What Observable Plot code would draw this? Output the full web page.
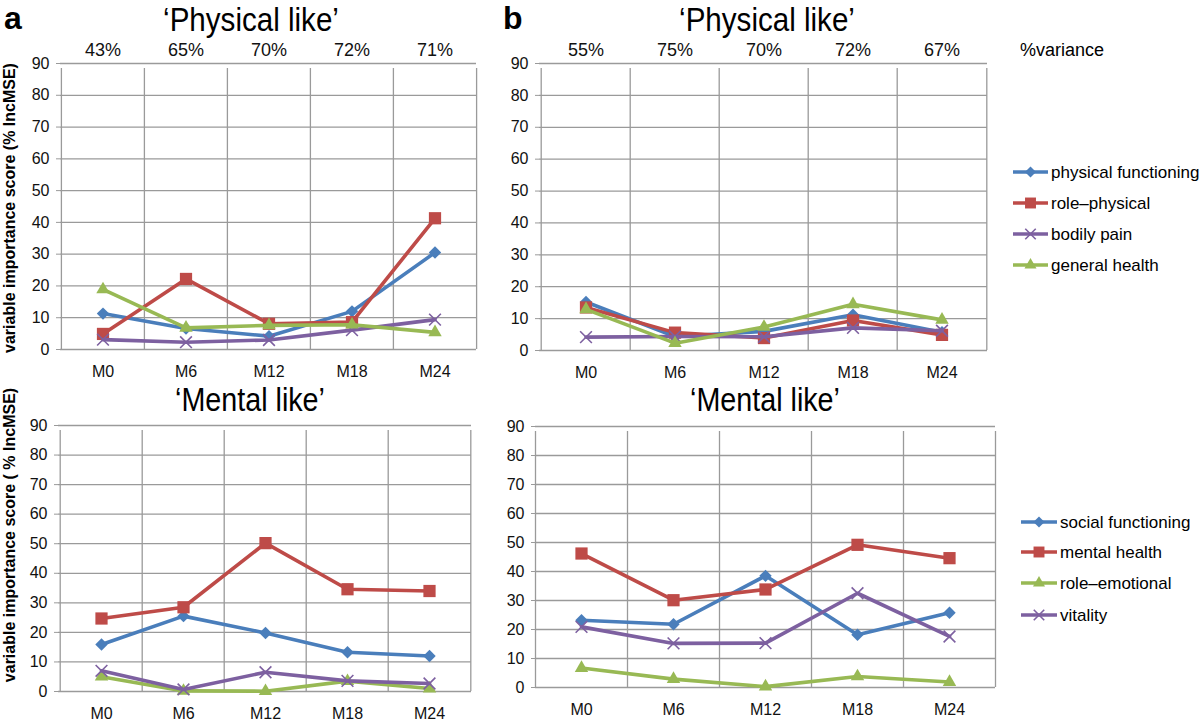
<!DOCTYPE html>
<html><head><meta charset="utf-8">
<script src="https://cdn.jsdelivr.net/npm/d3@7"></script>
<script src="https://cdn.jsdelivr.net/npm/@observablehq/plot@0.6"></script>
<style>
body{margin:0;background:#fff}
#root{position:relative;width:1200px;height:723px;overflow:hidden;background:#fff;font-family:"Liberation Sans",Arial,sans-serif}
#root svg{position:absolute;left:0;top:0}
</style></head><body><div id="root"></div>
<script>
// ---------- data ----------
const months = ["M0", "M6", "M12", "M18", "M24"];
const yTicks = [0, 10, 20, 30, 40, 50, 60, 70, 80, 90];
const varianceA = ["43%", "65%", "70%", "72%", "71%"];
const varianceB = ["55%", "75%", "70%", "72%", "67%"];

const physicalNames = ["physical functioning", "role–physical", "bodily pain", "general health"];
const mentalNames = ["social functioning", "mental health", "role–emotional", "vitality"];

// panel a, 'Physical like'
const aPhysicalFunctioning = [11.3, 6.6, 4.2, 12.0, 30.5];
const aRolePhysical = [4.9, 22.2, 8.1, 8.6, 41.3];
const aBodilyPain = [3.1, 2.3, 3.0, 6.1, 9.4];
const aGeneralHealth = [18.9, 6.8, 7.6, 7.8, 5.4];
// panel b, 'Physical like'
const bPhysicalFunctioning = [15.2, 4.4, 6.0, 11.2, 5.7];
const bRolePhysical = [13.5, 5.6, 3.9, 9.4, 4.9];
const bBodilyPain = [4.2, 4.4, 4.3, 7.1, 6.2];
const bGeneralHealth = [12.9, 2.3, 7.4, 14.5, 9.6];
// panel a, 'Mental like'
const aSocialFunctioning = [15.9, 25.5, 19.8, 13.3, 12.0];
const aMentalHealth = [24.7, 28.5, 50.2, 34.6, 34.0];
const aRoleEmotional = [5.0, 0.2, 0.1, 3.5, 1.0];
const aVitality = [7.0, 0.7, 6.5, 3.6, 2.7];
// panel b, 'Mental like'
const bSocialFunctioning = [23.2, 21.8, 38.5, 18.2, 25.8];
const bMentalHealth = [46.2, 30.1, 33.8, 49.2, 44.6];
const bRoleEmotional = [6.7, 2.9, 0.3, 3.8, 1.9];
const bVitality = [20.9, 15.2, 15.3, 32.5, 17.6];

// ---------- styles ----------
const BLUE = "#4A7EBB", RED = "#BE4B48", GREEN = "#98B954", PURPLE = "#7D60A0";
const GRID = "#9a9a9a";
const styleBlue = {color: BLUE, symbol: "diamond2", r: 5.6};
const styleRed = {color: RED, symbol: "square", r: 6.9};
const styleGreen = {color: GREEN, symbol: "triangle", r: 5.0};
const stylePurple = {color: PURPLE, symbol: "times", r: 5.4};

const physicalStyles = [styleBlue, styleRed, stylePurple, styleGreen];
const mentalStyles = [styleBlue, styleRed, styleGreen, stylePurple];

const root = document.getElementById("root");

function makeSeries(names, arrays, styles) {
  return names.map((name, k) => ({
    name, style: styles[k],
    rows: months.map((m, i) => ({month: m, value: arrays[k][i]}))
  }));
}

function panel({frame, series, topLabels}) {
  const [x0, x1, y0, y1] = frame;
  const bw = (x1 - x0) / months.length;
  const marks = [
    Plot.ruleY(yTicks, {y: d => d, stroke: GRID, strokeWidth: 1.3}),
    Plot.ruleX(months, {x: d => d, dx: -bw / 2, y1: 0, y2: 90, insetBottom: -5, stroke: GRID, strokeWidth: 1.3}),
    Plot.ruleX(months.slice(-1), {x: d => d, dx: bw / 2, y1: 0, y2: 90, insetBottom: -5, stroke: GRID, strokeWidth: 1.3}),
    Plot.axisY({ticks: yTicks, tickSize: 4, tickPadding: 7, stroke: GRID, fill: "#111", fontSize: 16, label: null}),
    Plot.axisX({anchor: "bottom", tickSize: 0, tickPadding: 16, fill: "#111", fontSize: 16, label: null})
  ];
  if (topLabels) {
    marks.push(Plot.axisX({anchor: "top", tickSize: 0, tickPadding: 8, fill: "#111", fontSize: 18, label: null,
      tickFormat: d => topLabels[months.indexOf(d)]}));
  }
  for (const s of series) {
    const st = s.style;
    marks.push(Plot.line(s.rows, {x: "month", y: "value", stroke: st.color, strokeWidth: 3.6, strokeLinejoin: "round"}));
    if (st.symbol === "times") {
      marks.push(Plot.dot(s.rows, {x: "month", y: "value", symbol: "times", r: st.r, stroke: st.color, strokeWidth: 1.6}));
    } else {
      marks.push(Plot.dot(s.rows, {x: "month", y: "value", symbol: st.symbol, r: st.r, fill: st.color, stroke: "none"}));
    }
  }
  const p = Plot.plot({
    width: 1200, height: 723,
    marginLeft: x0, marginRight: 1200 - x1, marginTop: y0, marginBottom: 723 - y1,
    x: {type: "band", domain: months, padding: 0},
    y: {domain: [0, 90]},
    style: {background: "transparent", overflow: "visible", fontFamily: "Liberation Sans, Arial, sans-serif", fontSize: "16px"},
    marks
  });
  root.appendChild(p);
}

panel({frame: [60, 476, 63, 349], topLabels: varianceA,
  series: makeSeries(physicalNames, [aPhysicalFunctioning, aRolePhysical, aBodilyPain, aGeneralHealth], physicalStyles)});
panel({frame: [539, 987, 63, 350], topLabels: varianceB,
  series: makeSeries(physicalNames, [bPhysicalFunctioning, bRolePhysical, bBodilyPain, bGeneralHealth], physicalStyles)});
panel({frame: [58, 471, 425, 691],
  series: makeSeries(mentalNames, [aSocialFunctioning, aMentalHealth, aRoleEmotional, aVitality], mentalStyles)});
panel({frame: [535, 995, 426, 687],
  series: makeSeries(mentalNames, [bSocialFunctioning, bMentalHealth, bRoleEmotional, bVitality], mentalStyles)});

// ---------- annotations ----------
const svg = d3.select(root).append("svg").attr("width", 1200).attr("height", 723)
  .style("font-family", "Liberation Sans, Arial, sans-serif");

svg.append("text").attr("x", 4).attr("y", 29).attr("font-size", 32).attr("font-weight", "bold").text("a");
svg.append("text").attr("x", 503).attr("y", 29).attr("font-size", 32).attr("font-weight", "bold").text("b");

// Titles: Helvetica-narrow look, obtained by a horizontal squeeze of the installed sans font
[[251, 31, 34, "‘Physical like’"], [767, 31, 34, "‘Physical like’"], [250, 411, 33, "‘Mental like’"], [765, 411, 33, "‘Mental like’"]]
  .forEach(([x, y, fs, t]) => svg.append("text").attr("transform", `translate(${x},${y}) scale(0.87,1)`)
    .attr("text-anchor", "middle").attr("font-size", fs).text(t));

svg.append("text").attr("x", 1020).attr("y", 56).attr("font-size", 18).text("%variance");

[[208, "variable importance score (% IncMSE)"], [535, "variable importance score ( % IncMSE)"]]
  .forEach(([cy, t]) => svg.append("text").attr("transform", `translate(15,${cy}) rotate(-90)`)
    .attr("text-anchor", "middle").attr("font-size", 16).attr("font-weight", "bold").text(t));

function legend(names, styles, lx0, lx1, ys) {
  names.forEach((name, k) => {
    const st = styles[k], y = ys[k];
    svg.append("line").attr("x1", lx0).attr("x2", lx1).attr("y1", y).attr("y2", y)
      .attr("stroke", st.color).attr("stroke-width", 3.6);
    const symType = {diamond2: d3.symbolDiamond2, square: d3.symbolSquare, triangle: d3.symbolTriangle, times: d3.symbolTimes}[st.symbol];
    const path = svg.append("path").attr("transform", `translate(${(lx0 + lx1) / 2},${y})`)
      .attr("d", d3.symbol(symType, Math.PI * st.r * st.r * 0.8)());
    if (st.symbol === "times") path.attr("fill", "none").attr("stroke", st.color).attr("stroke-width", 1.6);
    else path.attr("fill", st.color);
    svg.append("text").attr("x", lx1 + 3).attr("y", y).attr("dy", "0.35em").attr("font-size", 17).text(name);
  });
}
legend(physicalNames, physicalStyles, 1013, 1048, [172, 203, 234, 265]);
legend(mentalNames, mentalStyles, 1021, 1057, [522, 552, 583, 615]);
</script></body></html>
